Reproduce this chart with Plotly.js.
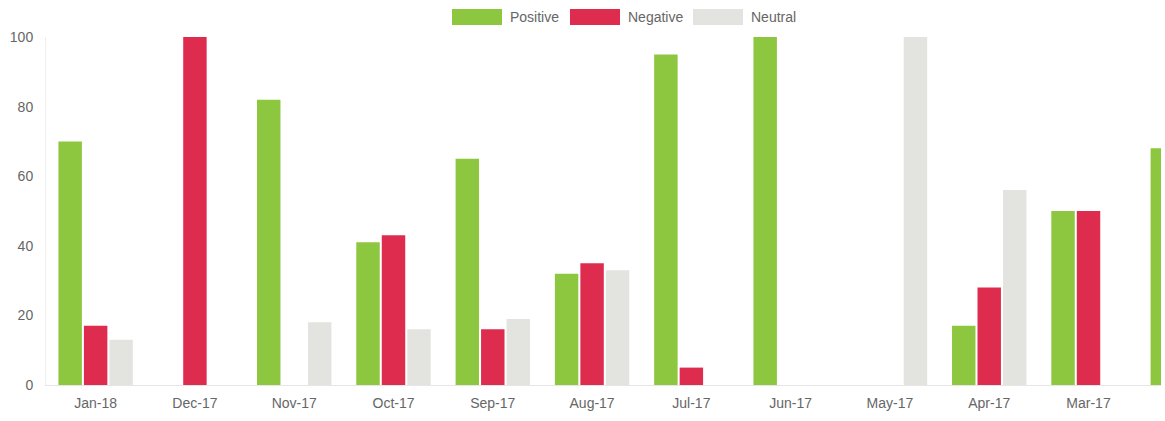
<!DOCTYPE html>
<html>
<head>
<meta charset="utf-8">
<script src="https://cdn.plot.ly/plotly-3.0.1.min.js"></script>
<style>html,body{margin:0;padding:0;background:#fff;}#chart{width:1165px;height:421px;}</style>
</head>
<body>
<div id="chart"></div>
<script>
var categories = ["Jan-18","Dec-17","Nov-17","Oct-17","Sep-17","Aug-17","Jul-17","Jun-17","May-17","Apr-17","Mar-17","Feb-17"];
var positive = [70, 0, 82, 41, 65, 32, 95, 100, 0, 17, 50, 68];
var negative = [17, 100, 0, 43, 16, 35, 5, 0, 0, 28, 50, 0];
var neutral  = [13, 0, 18, 16, 19, 33, 0, 0, 100, 56, 0, 0];
var seriesNames = ["Positive","Negative","Neutral"];
var seriesColors = ["#8dc63f","#de2c4f","#e3e3df"];
var yTicks = [0,20,40,60,80,100];

var W = 1165, H = 421, L = 46, R = 4, T = 37, B = 36;
var pw = W - L - R, ph = H - T - B;
function px2x(p){ return (p - L) / pw; }
function py2y(p){ return (H - B - p) / ph; }

var values = [positive, negative, neutral];
var traces = values.map(function(v,i){
  return {type:'bar', name:seriesNames[i], x:categories, y:v, showlegend:false,
    marker:{color:seriesColors[i], line:{width:0}}, hoverinfo:'x+y+name'};
});

// Chart.js-style legend: wide swatches with labels, centered at top
var legendStarts = [452, 570, 693];
var shapes = [], annotations = [];
seriesNames.forEach(function(n,i){
  var x0 = legendStarts[i];
  shapes.push({type:'rect', xref:'paper', yref:'paper',
    x0:px2x(x0), x1:px2x(x0+50), y0:py2y(25), y1:py2y(9),
    fillcolor:seriesColors[i], line:{width:0}});
  annotations.push({xref:'paper', yref:'paper', x:px2x(x0+56), y:py2y(17),
    xanchor:'left', yanchor:'middle', text:n, showarrow:false,
    font:{size:14, color:'#666'}});
});

var layout = {
  width:W, height:H,
  margin:{l:L, r:R, t:T, b:B},
  paper_bgcolor:'#fff', plot_bgcolor:'#fff',
  font:{family:'Liberation Sans, Arial, sans-serif', size:14, color:'#666'},
  barmode:'group', bargap:0.23, bargroupgap:0.08,
  showlegend:false,
  shapes:shapes, annotations:annotations,
  xaxis:{type:'category', range:[-0.5, 10.73], showgrid:false, zeroline:false,
    showline:true, linecolor:'#e6e6e6', ticks:'', ticklabelstandoff:5, fixedrange:true},
  yaxis:{range:[0,100], tickvals:yTicks, showgrid:false, zeroline:false,
    showline:true, linecolor:'#eeeeee', ticks:'', ticklabelstandoff:9, fixedrange:true}
};
Plotly.newPlot('chart', traces, layout, {displayModeBar:false, staticPlot:true});
</script>
</body>
</html>
